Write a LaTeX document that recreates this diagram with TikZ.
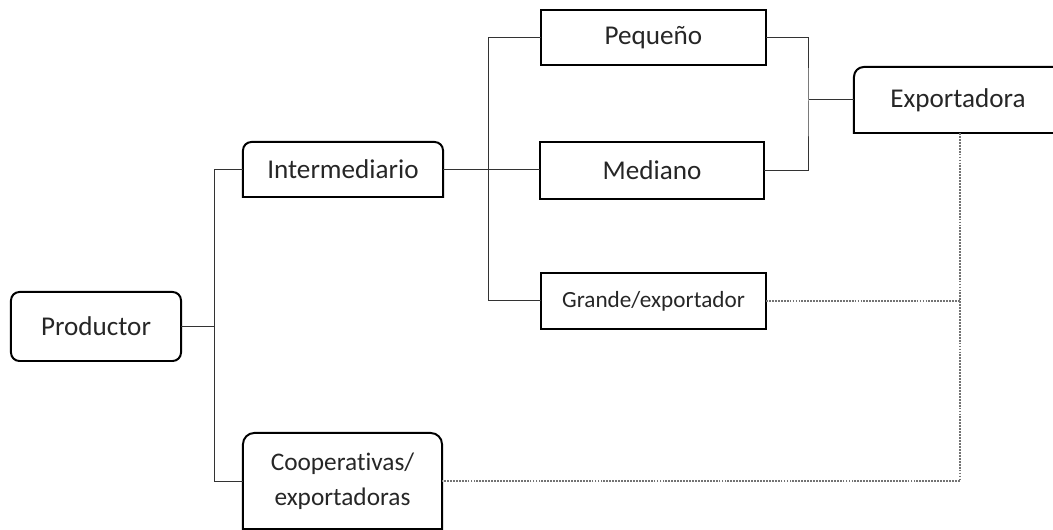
\documentclass[tikz,border=0pt]{standalone}
\usepackage{fontspec}
\setmainfont{Carlito}[Ligatures=NoCommon]
\usetikzlibrary{positioning, calc}

\begin{document}
\begin{tikzpicture}[x=0.025cm, y=0.025cm,
  box/.style={draw=none, inner sep=0pt, outer sep=0pt, text=black!85,
    font=\fontsize{19.3}{23}\selectfont},
  edge/.style={line width=1.4pt, black},
  link/.style={line width=0.7pt, black!80},
  dotlink/.style={line width=1.1pt, black!55, dash pattern=on 1.3pt off 0.8pt}]
\useasboundingbox (0,0) rectangle (1053,530);
\clip (0,0) rectangle (1053,530);
%
\node[box, minimum width=4.25cm, minimum height=1.725cm] (prod) at (96,203.5) {Productor};
\node[box, minimum width=5cm, minimum height=1.375cm] (inter) at (343,360.5) {Intermediario};
\node[box, minimum width=4.975cm, minimum height=2.4cm, align=center,
  font=\fontsize{18}{25}\selectfont] (coop) at (342.5,49) {Cooperativas/\\exportadoras};
\node[box, minimum width=5.625cm, minimum height=1.375cm] (peq) at (653.5,492.5) {Pequeño};
\node[box, minimum width=5.6cm, minimum height=1.425cm] (med) at (652,359.5) {Mediano};
\node[box, minimum width=5.625cm, minimum height=1.4cm,
  font=\fontsize{16.5}{19}\selectfont] (gran) at (653.5,229) {Grande/exportador};
\node[box, minimum width=5.2cm, minimum height=1.65cm] (expo) at (958,430) {Exportadora};
%
% outlines
\draw[edge, rounded corners=6pt] (prod.south west) rectangle (prod.north east);
\draw[edge] (inter.south west) -- ([yshift=-6pt]inter.north west)
  arc[start angle=180, end angle=90, radius=6pt] -- ([xshift=-6pt]inter.north east)
  arc[start angle=90, end angle=0, radius=6pt] -- (inter.south east) -- cycle;
\draw[edge] (coop.south west) -- ([yshift=-8pt]coop.north west)
  arc[start angle=180, end angle=90, radius=8pt] -- ([xshift=-8pt]coop.north east)
  arc[start angle=90, end angle=0, radius=8pt] -- (coop.south east) -- cycle;
\draw[edge] (peq.south west) rectangle (peq.north east);
\draw[edge] (med.south west) rectangle (med.north east);
\draw[edge] (gran.south west) rectangle (gran.north east);
\draw[edge] (expo.south east) -- (expo.south west) -- ([yshift=-7pt]expo.north west)
  arc[start angle=180, end angle=90, radius=7pt] -- (expo.north east);
%
% connectors
\draw[link] (prod.east) -- ++(33,0) coordinate (j1);
\draw[link] (inter.west) -| (j1) |- (coop.west);
\coordinate (j2) at ($(inter.east)!0.47!(med.west)$);
\draw[link] (inter.east) -- (inter.east -| med.west);
\draw[link] (peq.west) -| (j2) |- (gran.west);
\draw[link] (expo.west) -- ++(-45,0) coordinate (j3);
\draw[link] (peq.east) -| (j3) |- (med.east);
%
\coordinate (j4) at ([xshift=1.5pt]expo.south);
\draw[dotlink] (j4) |- (coop.east);
\draw[dotlink] (gran.east) -- (gran.east -| j4);
\end{tikzpicture}
\end{document}
